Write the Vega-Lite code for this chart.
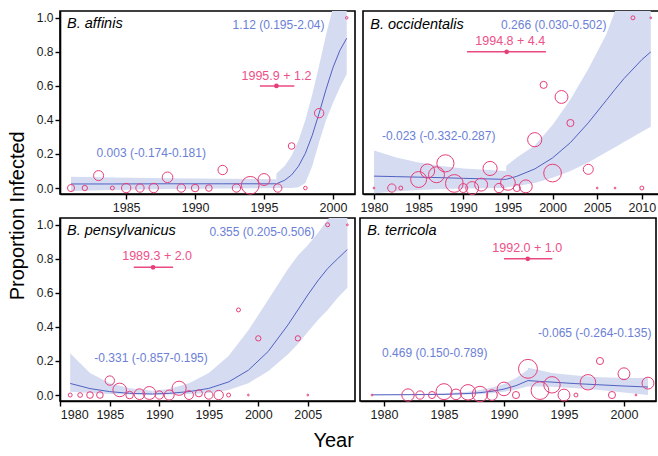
{
  "$schema": "https://vega.github.io/schema/vega-lite/v6.json",
  "padding": {"left": 7, "top": 10, "right": 0, "bottom": 4},
  "background": "white",
  "config": {
    "font": "Liberation Sans",
    "view": {"stroke": "#000", "strokeWidth": 1.6},
    "axis": {"grid": false, "domainColor": "#000", "domainWidth": 1.6, "tickColor": "#000", "tickWidth": 1.4, "tickSize": 5, "labelColor": "#1a1a1a", "labelFont": "Liberation Sans", "labelFontSize": 12, "labelPadding": 2},
    "title": {"font": "Liberation Sans", "fontSize": 20, "fontWeight": "normal", "color": "#000"}
  },
  "title": {"text": "Year", "orient": "bottom", "anchor": "middle", "offset": 10},
  "vconcat": [
    {
      "title": {"text": "Proportion Infected", "orient": "left", "anchor": "middle", "offset": 8},
      "spacing": 2,
      "vconcat": [
        {
          "spacing": 3,
          "hconcat": [
            {
              "width": 295, "height": 183,
              "encoding": {
                "x": {"field": "year", "type": "quantitative", "scale": {"domain": [1980.2, 2001.6], "nice": false, "zero": false}, "axis": {"values": [1985, 1990, 1995, 2000], "format": "d", "title": null, "labelFontSize": 12.5}},
                "y": {"field": "p", "type": "quantitative", "scale": {"domain": [-0.035, 1.04], "nice": false, "zero": false}, "axis": {"values": [0, 0.2, 0.4, 0.6, 0.8, 1], "format": ".1f", "title": null}}
              },
              "layer": [
                {"data": {"name": "fit"}, "transform": [{"filter": "datum.panel==='TL'"}], "mark": {"type": "area", "color": "#d5dbf1", "opacity": 1, "clip": true}, "encoding": {"y": {"field": "lo", "type": "quantitative", "scale": {"domain": [-0.035, 1.04], "nice": false, "zero": false}}, "y2": {"field": "hi"}, "detail": {"field": "seg"}}},
                {"data": {"name": "fit"}, "transform": [{"filter": "datum.panel==='TL'"}], "mark": {"type": "line", "color": "#5162c2", "strokeWidth": 1, "clip": true}, "encoding": {"detail": {"field": "seg"}}},
                {"data": {"name": "obs"}, "transform": [{"filter": "datum.panel==='TL'"}], "mark": {"type": "point", "shape": "circle", "filled": false, "color": "#e63e7a", "strokeWidth": 1, "opacity": 1}, "encoding": {"size": {"field": "n", "type": "quantitative", "scale": {"type": "linear", "domain": [0, 100], "range": [0, 314]}, "legend": null}}},
                {"data": {"name": "cp"}, "transform": [{"filter": "datum.panel==='TL'"}], "mark": {"type": "rule", "color": "#ea4a80", "strokeWidth": 1.5}, "encoding": {"x": {"field": "start", "type": "quantitative", "scale": {"domain": [1980.2, 2001.6], "nice": false, "zero": false}}, "x2": {"field": "end"}}},
                {"data": {"name": "cp"}, "transform": [{"filter": "datum.panel==='TL'"}], "mark": {"type": "point", "shape": "circle", "filled": true, "color": "#e63e7a", "size": 22, "opacity": 1}},
                {"data": {"name": "lab"}, "transform": [{"filter": "datum.panel==='TL' && datum.kind==='species'"}], "mark": {"type": "text", "align": "left", "baseline": "middle", "fontSize": 14.5, "fontStyle": "italic", "color": "#000"}, "encoding": {"text": {"field": "label"}}},
                {"data": {"name": "lab"}, "transform": [{"filter": "datum.panel==='TL' && datum.kind==='slope'"}], "mark": {"type": "text", "align": "center", "baseline": "middle", "fontSize": 12, "color": "#6b80d6"}, "encoding": {"text": {"field": "label"}}},
                {"data": {"name": "lab"}, "transform": [{"filter": "datum.panel==='TL' && datum.kind==='cp'"}], "mark": {"type": "text", "align": "center", "baseline": "middle", "fontSize": 12.5, "color": "#ee5088"}, "encoding": {"text": {"field": "label"}}}
              ]
            },
            {
              "width": 296, "height": 183,
              "encoding": {
                "x": {"field": "year", "type": "quantitative", "scale": {"domain": [1978.77, 2011.92], "nice": false, "zero": false}, "axis": {"values": [1980, 1985, 1990, 1995, 2000, 2005, 2010], "format": "d", "title": null, "labelFontSize": 12.5}},
                "y": {"field": "p", "type": "quantitative", "scale": {"domain": [-0.035, 1.04], "nice": false, "zero": false}, "axis": null}
              },
              "layer": [
                {"data": {"name": "fit"}, "transform": [{"filter": "datum.panel==='TR'"}], "mark": {"type": "area", "color": "#d5dbf1", "opacity": 1, "clip": true}, "encoding": {"y": {"field": "lo", "type": "quantitative", "scale": {"domain": [-0.035, 1.04], "nice": false, "zero": false}, "axis": null}, "y2": {"field": "hi"}, "detail": {"field": "seg"}}},
                {"data": {"name": "fit"}, "transform": [{"filter": "datum.panel==='TR'"}], "mark": {"type": "line", "color": "#5162c2", "strokeWidth": 1, "clip": true}, "encoding": {"detail": {"field": "seg"}}},
                {"data": {"name": "obs"}, "transform": [{"filter": "datum.panel==='TR'"}], "mark": {"type": "point", "shape": "circle", "filled": false, "color": "#e63e7a", "strokeWidth": 1, "opacity": 1}, "encoding": {"size": {"field": "n", "type": "quantitative", "scale": {"type": "linear", "domain": [0, 100], "range": [0, 314]}, "legend": null}}},
                {"data": {"name": "cp"}, "transform": [{"filter": "datum.panel==='TR'"}], "mark": {"type": "rule", "color": "#ea4a80", "strokeWidth": 1.5}, "encoding": {"x": {"field": "start", "type": "quantitative", "scale": {"domain": [1978.77, 2011.92], "nice": false, "zero": false}}, "x2": {"field": "end"}}},
                {"data": {"name": "cp"}, "transform": [{"filter": "datum.panel==='TR'"}], "mark": {"type": "point", "shape": "circle", "filled": true, "color": "#e63e7a", "size": 22, "opacity": 1}},
                {"data": {"name": "lab"}, "transform": [{"filter": "datum.panel==='TR' && datum.kind==='species'"}], "mark": {"type": "text", "align": "left", "baseline": "middle", "fontSize": 14.5, "fontStyle": "italic", "color": "#000"}, "encoding": {"text": {"field": "label"}}},
                {"data": {"name": "lab"}, "transform": [{"filter": "datum.panel==='TR' && datum.kind==='slope'"}], "mark": {"type": "text", "align": "center", "baseline": "middle", "fontSize": 12, "color": "#6b80d6"}, "encoding": {"text": {"field": "label"}}},
                {"data": {"name": "lab"}, "transform": [{"filter": "datum.panel==='TR' && datum.kind==='cp'"}], "mark": {"type": "text", "align": "center", "baseline": "middle", "fontSize": 12.5, "color": "#ee5088"}, "encoding": {"text": {"field": "label"}}}
              ]
            }
          ]
        },
        {
          "spacing": 3,
          "hconcat": [
            {
              "width": 295, "height": 183,
              "encoding": {
                "x": {"field": "year", "type": "quantitative", "scale": {"domain": [1979.97, 2009.77], "nice": false, "zero": false}, "axis": {"values": [1980, 1985, 1990, 1995, 2000, 2005], "format": "d", "title": null, "labelFontSize": 12.5}},
                "y": {"field": "p", "type": "quantitative", "scale": {"domain": [-0.035, 1.04], "nice": false, "zero": false}, "axis": {"values": [0, 0.2, 0.4, 0.6, 0.8, 1], "format": ".1f", "title": null}}
              },
              "layer": [
                {"data": {"name": "fit"}, "transform": [{"filter": "datum.panel==='BL'"}], "mark": {"type": "area", "color": "#d5dbf1", "opacity": 1, "clip": true}, "encoding": {"y": {"field": "lo", "type": "quantitative", "scale": {"domain": [-0.035, 1.04], "nice": false, "zero": false}}, "y2": {"field": "hi"}, "detail": {"field": "seg"}}},
                {"data": {"name": "fit"}, "transform": [{"filter": "datum.panel==='BL'"}], "mark": {"type": "line", "color": "#5162c2", "strokeWidth": 1, "clip": true}, "encoding": {"detail": {"field": "seg"}}},
                {"data": {"name": "obs"}, "transform": [{"filter": "datum.panel==='BL'"}], "mark": {"type": "point", "shape": "circle", "filled": false, "color": "#e63e7a", "strokeWidth": 1, "opacity": 1}, "encoding": {"size": {"field": "n", "type": "quantitative", "scale": {"type": "linear", "domain": [0, 100], "range": [0, 314]}, "legend": null}}},
                {"data": {"name": "cp"}, "transform": [{"filter": "datum.panel==='BL'"}], "mark": {"type": "rule", "color": "#ea4a80", "strokeWidth": 1.5}, "encoding": {"x": {"field": "start", "type": "quantitative", "scale": {"domain": [1979.97, 2009.77], "nice": false, "zero": false}}, "x2": {"field": "end"}}},
                {"data": {"name": "cp"}, "transform": [{"filter": "datum.panel==='BL'"}], "mark": {"type": "point", "shape": "circle", "filled": true, "color": "#e63e7a", "size": 22, "opacity": 1}},
                {"data": {"name": "lab"}, "transform": [{"filter": "datum.panel==='BL' && datum.kind==='species'"}], "mark": {"type": "text", "align": "left", "baseline": "middle", "fontSize": 14.5, "fontStyle": "italic", "color": "#000"}, "encoding": {"text": {"field": "label"}}},
                {"data": {"name": "lab"}, "transform": [{"filter": "datum.panel==='BL' && datum.kind==='slope'"}], "mark": {"type": "text", "align": "center", "baseline": "middle", "fontSize": 12, "color": "#6b80d6"}, "encoding": {"text": {"field": "label"}}},
                {"data": {"name": "lab"}, "transform": [{"filter": "datum.panel==='BL' && datum.kind==='cp'"}], "mark": {"type": "text", "align": "center", "baseline": "middle", "fontSize": 12.5, "color": "#ee5088"}, "encoding": {"text": {"field": "label"}}}
              ]
            },
            {
              "width": 296, "height": 183,
              "encoding": {
                "x": {"field": "year", "type": "quantitative", "scale": {"domain": [1978.0, 2002.67], "nice": false, "zero": false}, "axis": {"values": [1980, 1985, 1990, 1995, 2000], "format": "d", "title": null, "labelFontSize": 12.5}},
                "y": {"field": "p", "type": "quantitative", "scale": {"domain": [-0.035, 1.04], "nice": false, "zero": false}, "axis": null}
              },
              "layer": [
                {"data": {"name": "fit"}, "transform": [{"filter": "datum.panel==='BR'"}], "mark": {"type": "area", "color": "#d5dbf1", "opacity": 1, "clip": true}, "encoding": {"y": {"field": "lo", "type": "quantitative", "scale": {"domain": [-0.035, 1.04], "nice": false, "zero": false}, "axis": null}, "y2": {"field": "hi"}, "detail": {"field": "seg"}}},
                {"data": {"name": "fit"}, "transform": [{"filter": "datum.panel==='BR'"}], "mark": {"type": "line", "color": "#5162c2", "strokeWidth": 1, "clip": true}, "encoding": {"detail": {"field": "seg"}}},
                {"data": {"name": "obs"}, "transform": [{"filter": "datum.panel==='BR'"}], "mark": {"type": "point", "shape": "circle", "filled": false, "color": "#e63e7a", "strokeWidth": 1, "opacity": 1}, "encoding": {"size": {"field": "n", "type": "quantitative", "scale": {"type": "linear", "domain": [0, 100], "range": [0, 314]}, "legend": null}}},
                {"data": {"name": "cp"}, "transform": [{"filter": "datum.panel==='BR'"}], "mark": {"type": "rule", "color": "#ea4a80", "strokeWidth": 1.5}, "encoding": {"x": {"field": "start", "type": "quantitative", "scale": {"domain": [1978.0, 2002.67], "nice": false, "zero": false}}, "x2": {"field": "end"}}},
                {"data": {"name": "cp"}, "transform": [{"filter": "datum.panel==='BR'"}], "mark": {"type": "point", "shape": "circle", "filled": true, "color": "#e63e7a", "size": 22, "opacity": 1}},
                {"data": {"name": "lab"}, "transform": [{"filter": "datum.panel==='BR' && datum.kind==='species'"}], "mark": {"type": "text", "align": "left", "baseline": "middle", "fontSize": 14.5, "fontStyle": "italic", "color": "#000"}, "encoding": {"text": {"field": "label"}}},
                {"data": {"name": "lab"}, "transform": [{"filter": "datum.panel==='BR' && datum.kind==='slope'"}], "mark": {"type": "text", "align": "center", "baseline": "middle", "fontSize": 12, "color": "#6b80d6"}, "encoding": {"text": {"field": "label"}}},
                {"data": {"name": "lab"}, "transform": [{"filter": "datum.panel==='BR' && datum.kind==='cp'"}], "mark": {"type": "text", "align": "center", "baseline": "middle", "fontSize": 12.5, "color": "#ee5088"}, "encoding": {"text": {"field": "label"}}}
              ]
            }
          ]
        }
      ]
    }
  ],
  "datasets": {
    "fit": [
      {"panel": "TL", "seg": 1, "year": 1981, "p": 0.024, "lo": -0.018, "hi": 0.066},
      {"panel": "TL", "seg": 1, "year": 1984, "p": 0.024, "lo": -0.012, "hi": 0.062},
      {"panel": "TL", "seg": 1, "year": 1988, "p": 0.025, "lo": -0.006, "hi": 0.057},
      {"panel": "TL", "seg": 1, "year": 1992, "p": 0.025, "lo": -0.002, "hi": 0.054},
      {"panel": "TL", "seg": 1, "year": 1995.9, "p": 0.025, "lo": 0.0, "hi": 0.052},
      {"panel": "TL", "seg": 2, "year": 1995.9, "p": 0.025, "lo": 0.0, "hi": 0.086},
      {"panel": "TL", "seg": 2, "year": 1996.5, "p": 0.046, "lo": 0.0, "hi": 0.13},
      {"panel": "TL", "seg": 2, "year": 1997, "p": 0.077, "lo": 0.0, "hi": 0.19},
      {"panel": "TL", "seg": 2, "year": 1997.5, "p": 0.128, "lo": 0.005, "hi": 0.28},
      {"panel": "TL", "seg": 2, "year": 1998, "p": 0.204, "lo": 0.03, "hi": 0.4},
      {"panel": "TL", "seg": 2, "year": 1998.5, "p": 0.31, "lo": 0.13, "hi": 0.55},
      {"panel": "TL", "seg": 2, "year": 1999, "p": 0.44, "lo": 0.27, "hi": 0.72},
      {"panel": "TL", "seg": 2, "year": 1999.5, "p": 0.58, "lo": 0.4, "hi": 0.9},
      {"panel": "TL", "seg": 2, "year": 2000, "p": 0.707, "lo": 0.5, "hi": 1.06},
      {"panel": "TL", "seg": 2, "year": 2000.5, "p": 0.808, "lo": 0.59, "hi": 1.1},
      {"panel": "TL", "seg": 2, "year": 2001, "p": 0.88, "lo": 0.67, "hi": 1.1},
      {"panel": "TR", "seg": 1, "year": 1980, "p": 0.07, "lo": -0.03, "hi": 0.22},
      {"panel": "TR", "seg": 1, "year": 1982.5, "p": 0.067, "lo": -0.02, "hi": 0.18},
      {"panel": "TR", "seg": 1, "year": 1985, "p": 0.064, "lo": -0.012, "hi": 0.15},
      {"panel": "TR", "seg": 1, "year": 1987.5, "p": 0.061, "lo": -0.006, "hi": 0.13},
      {"panel": "TR", "seg": 1, "year": 1990, "p": 0.057, "lo": -0.003, "hi": 0.115},
      {"panel": "TR", "seg": 1, "year": 1994.8, "p": 0.051, "lo": 0.0, "hi": 0.1},
      {"panel": "TR", "seg": 2, "year": 1994.8, "p": 0.051, "lo": 0.005, "hi": 0.13},
      {"panel": "TR", "seg": 2, "year": 1996, "p": 0.069, "lo": 0.012, "hi": 0.18},
      {"panel": "TR", "seg": 2, "year": 1998, "p": 0.112, "lo": 0.03, "hi": 0.25},
      {"panel": "TR", "seg": 2, "year": 2000, "p": 0.177, "lo": 0.06, "hi": 0.37},
      {"panel": "TR", "seg": 2, "year": 2002, "p": 0.267, "lo": 0.1, "hi": 0.52},
      {"panel": "TR", "seg": 2, "year": 2004, "p": 0.383, "lo": 0.15, "hi": 0.7},
      {"panel": "TR", "seg": 2, "year": 2006, "p": 0.514, "lo": 0.21, "hi": 0.9},
      {"panel": "TR", "seg": 2, "year": 2007, "p": 0.58, "lo": 0.24, "hi": 1.04},
      {"panel": "TR", "seg": 2, "year": 2008, "p": 0.643, "lo": 0.27, "hi": 1.1},
      {"panel": "TR", "seg": 2, "year": 2010, "p": 0.754, "lo": 0.33, "hi": 1.1},
      {"panel": "TR", "seg": 2, "year": 2011, "p": 0.8, "lo": 0.36, "hi": 1.1},
      {"panel": "BL", "seg": 1, "year": 1981, "p": 0.068, "lo": 0.02, "hi": 0.245},
      {"panel": "BL", "seg": 1, "year": 1983, "p": 0.038, "lo": 0.012, "hi": 0.13},
      {"panel": "BL", "seg": 1, "year": 1985, "p": 0.02, "lo": 0.006, "hi": 0.07},
      {"panel": "BL", "seg": 1, "year": 1987, "p": 0.01, "lo": 0.003, "hi": 0.04},
      {"panel": "BL", "seg": 1, "year": 1989.3, "p": 0.006, "lo": 0.002, "hi": 0.025},
      {"panel": "BL", "seg": 2, "year": 1989.3, "p": 0.006, "lo": 0.002, "hi": 0.025},
      {"panel": "BL", "seg": 2, "year": 1991, "p": 0.01, "lo": 0.003, "hi": 0.035},
      {"panel": "BL", "seg": 2, "year": 1993, "p": 0.02, "lo": 0.006, "hi": 0.07},
      {"panel": "BL", "seg": 2, "year": 1995, "p": 0.039, "lo": 0.012, "hi": 0.13},
      {"panel": "BL", "seg": 2, "year": 1997, "p": 0.077, "lo": 0.03, "hi": 0.23},
      {"panel": "BL", "seg": 2, "year": 1999, "p": 0.146, "lo": 0.07, "hi": 0.38},
      {"panel": "BL", "seg": 2, "year": 2001, "p": 0.256, "lo": 0.14, "hi": 0.56},
      {"panel": "BL", "seg": 2, "year": 2003, "p": 0.412, "lo": 0.24, "hi": 0.74},
      {"panel": "BL", "seg": 2, "year": 2004, "p": 0.5, "lo": 0.3, "hi": 0.82},
      {"panel": "BL", "seg": 2, "year": 2005, "p": 0.588, "lo": 0.37, "hi": 0.88},
      {"panel": "BL", "seg": 2, "year": 2006, "p": 0.67, "lo": 0.44, "hi": 0.95},
      {"panel": "BL", "seg": 2, "year": 2007, "p": 0.743, "lo": 0.5, "hi": 1.03},
      {"panel": "BL", "seg": 2, "year": 2008, "p": 0.8, "lo": 0.57, "hi": 1.1},
      {"panel": "BL", "seg": 2, "year": 2009, "p": 0.855, "lo": 0.63, "hi": 1.1},
      {"panel": "BR", "seg": 1, "year": 1979, "p": 0.001, "lo": 0.0, "hi": 0.003},
      {"panel": "BR", "seg": 1, "year": 1982, "p": 0.002, "lo": 0.0, "hi": 0.005},
      {"panel": "BR", "seg": 1, "year": 1985, "p": 0.004, "lo": 0.001, "hi": 0.01},
      {"panel": "BR", "seg": 1, "year": 1987, "p": 0.009, "lo": 0.003, "hi": 0.02},
      {"panel": "BR", "seg": 1, "year": 1988, "p": 0.014, "lo": 0.006, "hi": 0.03},
      {"panel": "BR", "seg": 1, "year": 1989, "p": 0.022, "lo": 0.011, "hi": 0.045},
      {"panel": "BR", "seg": 1, "year": 1990, "p": 0.035, "lo": 0.02, "hi": 0.065},
      {"panel": "BR", "seg": 1, "year": 1991, "p": 0.055, "lo": 0.032, "hi": 0.1},
      {"panel": "BR", "seg": 1, "year": 1992, "p": 0.085, "lo": 0.05, "hi": 0.15},
      {"panel": "BR", "seg": 2, "year": 1992, "p": 0.085, "lo": 0.05, "hi": 0.16},
      {"panel": "BR", "seg": 2, "year": 1993, "p": 0.08, "lo": 0.05, "hi": 0.145},
      {"panel": "BR", "seg": 2, "year": 1994, "p": 0.076, "lo": 0.048, "hi": 0.13},
      {"panel": "BR", "seg": 2, "year": 1996, "p": 0.067, "lo": 0.04, "hi": 0.115},
      {"panel": "BR", "seg": 2, "year": 1998, "p": 0.06, "lo": 0.03, "hi": 0.105},
      {"panel": "BR", "seg": 2, "year": 2000, "p": 0.053, "lo": 0.015, "hi": 0.1},
      {"panel": "BR", "seg": 2, "year": 2002, "p": 0.047, "lo": 0.0, "hi": 0.1}
    ],
    "obs": [
      {"panel": "TL", "year": 1981, "p": 0, "n": 16},
      {"panel": "TL", "year": 1982, "p": 0, "n": 9},
      {"panel": "TL", "year": 1983, "p": 0.073, "n": 32},
      {"panel": "TL", "year": 1984, "p": 0, "n": 5},
      {"panel": "TL", "year": 1985, "p": 0, "n": 28},
      {"panel": "TL", "year": 1986, "p": 0, "n": 22},
      {"panel": "TL", "year": 1987, "p": 0, "n": 28},
      {"panel": "TL", "year": 1988, "p": 0.063, "n": 36},
      {"panel": "TL", "year": 1989, "p": 0, "n": 22},
      {"panel": "TL", "year": 1990, "p": 0, "n": 18},
      {"panel": "TL", "year": 1991, "p": 0, "n": 14},
      {"panel": "TL", "year": 1992, "p": 0.106, "n": 28},
      {"panel": "TL", "year": 1993, "p": 0, "n": 22},
      {"panel": "TL", "year": 1994, "p": 0.016, "n": 100},
      {"panel": "TL", "year": 1995, "p": 0.05, "n": 45},
      {"panel": "TL", "year": 1996, "p": 0, "n": 22},
      {"panel": "TL", "year": 1997, "p": 0.247, "n": 14},
      {"panel": "TL", "year": 1998, "p": 0, "n": 4},
      {"panel": "TL", "year": 1999, "p": 0.44, "n": 28},
      {"panel": "TL", "year": 2001, "p": 1, "n": 2},
      {"panel": "TR", "year": 1980, "p": 0, "n": 1},
      {"panel": "TR", "year": 1982, "p": 0, "n": 22},
      {"panel": "TR", "year": 1983, "p": 0, "n": 5},
      {"panel": "TR", "year": 1985, "p": 0.05, "n": 81},
      {"panel": "TR", "year": 1986, "p": 0.1, "n": 64},
      {"panel": "TR", "year": 1987, "p": 0.078, "n": 81},
      {"panel": "TR", "year": 1988, "p": 0.145, "n": 94},
      {"panel": "TR", "year": 1989, "p": 0.027, "n": 100},
      {"panel": "TR", "year": 1990, "p": 0, "n": 25},
      {"panel": "TR", "year": 1991, "p": 0, "n": 53},
      {"panel": "TR", "year": 1992, "p": 0.02, "n": 53},
      {"panel": "TR", "year": 1993, "p": 0.115, "n": 64},
      {"panel": "TR", "year": 1994, "p": 0, "n": 28},
      {"panel": "TR", "year": 1995, "p": 0.03, "n": 69},
      {"panel": "TR", "year": 1996, "p": 0, "n": 16},
      {"panel": "TR", "year": 1997, "p": 0.01, "n": 53},
      {"panel": "TR", "year": 1998, "p": 0.284, "n": 64},
      {"panel": "TR", "year": 1999, "p": 0.606, "n": 16},
      {"panel": "TR", "year": 2000, "p": 0.088, "n": 100},
      {"panel": "TR", "year": 2001, "p": 0.535, "n": 53},
      {"panel": "TR", "year": 2002, "p": 0.382, "n": 16},
      {"panel": "TR", "year": 2004, "p": 0.11, "n": 32},
      {"panel": "TR", "year": 2005, "p": 0, "n": 1},
      {"panel": "TR", "year": 2007, "p": 0, "n": 1},
      {"panel": "TR", "year": 2009, "p": 1, "n": 5},
      {"panel": "TR", "year": 2010, "p": 0, "n": 5},
      {"panel": "TR", "year": 2011, "p": 1, "n": 1},
      {"panel": "BL", "year": 1981, "p": 0, "n": 5},
      {"panel": "BL", "year": 1982, "p": 0, "n": 7},
      {"panel": "BL", "year": 1983, "p": 0, "n": 14},
      {"panel": "BL", "year": 1984, "p": 0, "n": 14},
      {"panel": "BL", "year": 1985, "p": 0.085, "n": 28},
      {"panel": "BL", "year": 1986, "p": 0.03, "n": 59},
      {"panel": "BL", "year": 1987, "p": 0, "n": 18},
      {"panel": "BL", "year": 1988, "p": 0.005, "n": 36},
      {"panel": "BL", "year": 1989, "p": 0.012, "n": 53},
      {"panel": "BL", "year": 1990, "p": 0, "n": 22},
      {"panel": "BL", "year": 1991, "p": 0, "n": 32},
      {"panel": "BL", "year": 1992, "p": 0.04, "n": 64},
      {"panel": "BL", "year": 1993, "p": 0, "n": 25},
      {"panel": "BL", "year": 1994, "p": 0.01, "n": 16},
      {"panel": "BL", "year": 1995, "p": 0, "n": 22},
      {"panel": "BL", "year": 1996, "p": 0, "n": 28},
      {"panel": "BL", "year": 1997, "p": 0, "n": 5},
      {"panel": "BL", "year": 1998, "p": 0.5, "n": 5},
      {"panel": "BL", "year": 1999, "p": 0, "n": 1},
      {"panel": "BL", "year": 2000, "p": 0.333, "n": 9},
      {"panel": "BL", "year": 2004, "p": 0.333, "n": 9},
      {"panel": "BL", "year": 2005, "p": 0, "n": 1},
      {"panel": "BL", "year": 2007, "p": 1, "n": 5},
      {"panel": "BL", "year": 2009, "p": 1, "n": 1},
      {"panel": "BR", "year": 1979, "p": 0, "n": 1},
      {"panel": "BR", "year": 1982, "p": 0, "n": 49},
      {"panel": "BR", "year": 1983, "p": 0, "n": 22},
      {"panel": "BR", "year": 1984, "p": 0, "n": 16},
      {"panel": "BR", "year": 1985, "p": 0.02, "n": 81},
      {"panel": "BR", "year": 1986, "p": 0.004, "n": 36},
      {"panel": "BR", "year": 1987, "p": 0.016, "n": 76},
      {"panel": "BR", "year": 1988, "p": 0.006, "n": 76},
      {"panel": "BR", "year": 1989, "p": 0, "n": 36},
      {"panel": "BR", "year": 1990, "p": 0.036, "n": 59},
      {"panel": "BR", "year": 1991, "p": 0, "n": 16},
      {"panel": "BR", "year": 1992, "p": 0.154, "n": 114},
      {"panel": "BR", "year": 1993, "p": 0.026, "n": 100},
      {"panel": "BR", "year": 1994, "p": 0.06, "n": 86},
      {"panel": "BR", "year": 1995, "p": 0, "n": 45},
      {"panel": "BR", "year": 1996, "p": 0, "n": 5},
      {"panel": "BR", "year": 1997, "p": 0.075, "n": 76},
      {"panel": "BR", "year": 1998, "p": 0.2, "n": 16},
      {"panel": "BR", "year": 1999, "p": 0, "n": 16},
      {"panel": "BR", "year": 2000, "p": 0.125, "n": 45},
      {"panel": "BR", "year": 2001, "p": 0, "n": 1},
      {"panel": "BR", "year": 2002, "p": 0.07, "n": 45}
    ],
    "cp": [
      {"panel": "TL", "year": 1995.9, "p": 0.6, "start": 1994.7, "end": 1997.2},
      {"panel": "TR", "year": 1994.86, "p": 0.8, "start": 1990.42, "end": 1999.26},
      {"panel": "BL", "year": 1989.37, "p": 0.75, "start": 1987.42, "end": 1991.4},
      {"panel": "BR", "year": 1991.98, "p": 0.8, "start": 1990.0, "end": 1994.03}
    ],
    "lab": [
      {"panel": "TL", "kind": "species", "year": 1980.71, "p": 0.962, "label": "B. affinis"},
      {"panel": "TL", "kind": "slope", "year": 1986.82, "p": 0.204, "label": "0.003 (-0.174-0.181)"},
      {"panel": "TL", "kind": "slope", "year": 1996.05, "p": 0.958, "label": "1.12 (0.195-2.04)"},
      {"panel": "TL", "kind": "cp", "year": 1995.9, "p": 0.66, "label": "1995.9 + 1.2"},
      {"panel": "TR", "kind": "species", "year": 1979.59, "p": 0.958, "label": "B. occidentalis"},
      {"panel": "TR", "kind": "slope", "year": 1987.25, "p": 0.306, "label": "-0.023 (-0.332-0.287)"},
      {"panel": "TR", "kind": "slope", "year": 2000.13, "p": 0.958, "label": "0.266 (0.030-0.502)"},
      {"panel": "TR", "kind": "cp", "year": 1995.26, "p": 0.862, "label": "1994.8 + 4.4"},
      {"panel": "BL", "kind": "species", "year": 1980.68, "p": 0.964, "label": "B. pensylvanicus"},
      {"panel": "BL", "kind": "slope", "year": 1989.17, "p": 0.219, "label": "-0.331 (-0.857-0.195)"},
      {"panel": "BL", "kind": "slope", "year": 2000.39, "p": 0.96, "label": "0.355 (0.205-0.506)"},
      {"panel": "BL", "kind": "cp", "year": 1989.78, "p": 0.815, "label": "1989.3 + 2.0"},
      {"panel": "BR", "kind": "species", "year": 1978.61, "p": 0.964, "label": "B. terricola"},
      {"panel": "BR", "kind": "slope", "year": 1984.23, "p": 0.249, "label": "0.469 (0.150-0.789)"},
      {"panel": "BR", "kind": "slope", "year": 1997.56, "p": 0.366, "label": "-0.065 (-0.264-0.135)"},
      {"panel": "BR", "kind": "cp", "year": 1991.94, "p": 0.865, "label": "1992.0 + 1.0"}
    ]
  }
}
